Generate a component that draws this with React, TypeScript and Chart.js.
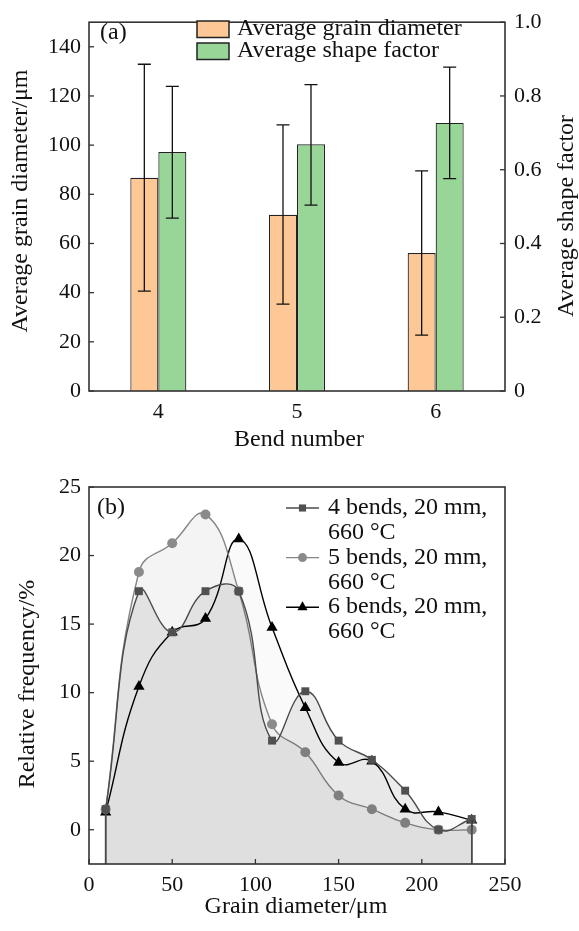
import React, { useEffect, useRef } from 'react';
import { Chart, registerables } from 'chart.js';

Chart.register(...registerables);

const FONT = "'Liberation Serif', 'Times New Roman', serif";
const TEXT = '#111';

// ---------- Panel (a) data ----------
const bendLabels = ['4', '5', '6'];
const grainDiameter = [86.7, 71.7, 56.1];
const grainDiameterLow = [40.6, 35.3, 22.7];
const grainDiameterHigh = [132.9, 108.2, 89.5];
const shapeFactor = [0.648, 0.669, 0.727];
const shapeFactorLow = [0.469, 0.504, 0.576];
const shapeFactorHigh = [0.826, 0.831, 0.878];
const leftTicksA = [0, 20, 40, 60, 80, 100, 120, 140];
const rightTicksA = [0, 0.2, 0.4, 0.6, 0.8, 1.0];

// ---------- Panel (b) data ----------
const grainSizes = [10, 30, 50, 70, 90, 110, 130, 150, 170, 190, 210, 230];
const freq4 = [1.5, 17.4, 14.4, 17.4, 17.4, 6.5, 10.1, 6.5, 5.1, 2.85, 0, 0.78];
const freq5 = [1.5, 18.8, 20.9, 23.0, 17.4, 7.7, 5.65, 2.5, 1.5, 0.5, 0, 0];
const freq6 = [1.27, 10.45, 14.4, 15.4, 21.2, 14.75, 8.9, 4.9, 5.0, 1.5, 1.3, 0.7];
const xTicksB = [0, 50, 100, 150, 200, 250];
const yTicksB = [0, 5, 10, 15, 20, 25];
const seriesNamesB = ['4 bends, 20 mm,', '5 bends, 20 mm,', '6 bends, 20 mm,'];
const seriesSubB = ['660 °C', '660 °C', '660 °C'];

const tickFont = { family: FONT, size: 22 };

function drawText(ctx: CanvasRenderingContext2D, text: string, x: number, y: number, rot = 0, align: CanvasTextAlign = 'center', size = 24) {
  ctx.save();
  ctx.translate(x, y);
  if (rot) ctx.rotate(rot);
  ctx.font = `${size}px ${FONT}`;
  ctx.fillStyle = TEXT;
  ctx.textAlign = align;
  ctx.textBaseline = 'middle';
  ctx.fillText(text, 0, 0);
  ctx.restore();
}

function drawMarker(ctx: CanvasRenderingContext2D, style: string, x: number, y: number, r: number, color: string) {
  ctx.save();
  ctx.fillStyle = color;
  ctx.beginPath();
  if (style === 'rect') {
    const s = Math.SQRT1_2 * r;
    ctx.rect(x - s, y - s, 2 * s, 2 * s);
  } else if (style === 'circle') {
    ctx.arc(x, y, r, 0, Math.PI * 2);
  } else {
    let rad = 0;
    ctx.moveTo(x + Math.sin(rad) * r, y - Math.cos(rad) * r);
    rad += (2 * Math.PI) / 3;
    ctx.lineTo(x + Math.sin(rad) * r, y - Math.cos(rad) * r);
    rad += (2 * Math.PI) / 3;
    ctx.lineTo(x + Math.sin(rad) * r, y - Math.cos(rad) * r);
    ctx.closePath();
  }
  ctx.fill();
  ctx.restore();
}

function makeTickPlugin(specs: { id: string; side: string; values: number[] }[]) {
  return {
    id: 'innerTicks',
    afterDraw(chart: any) {
      const ctx = chart.ctx as CanvasRenderingContext2D;
      const a = chart.chartArea;
      ctx.save();
      ctx.strokeStyle = '#333';
      ctx.lineWidth = 1.3;
      specs.forEach((spec) => {
        const scale = chart.scales[spec.id];
        spec.values.forEach((v) => {
          const p = scale.getPixelForValue(v);
          ctx.beginPath();
          if (spec.side === 'left') { ctx.moveTo(a.left, p); ctx.lineTo(a.left + 5, p); }
          else if (spec.side === 'right') { ctx.moveTo(a.right, p); ctx.lineTo(a.right - 5, p); }
          else { ctx.moveTo(p, a.bottom); ctx.lineTo(p, a.bottom - 5); }
          ctx.stroke();
        });
      });
      ctx.strokeStyle = '#333';
      ctx.lineWidth = 1.6;
      ctx.strokeRect(a.left, a.top, a.right - a.left, a.bottom - a.top);
      ctx.restore();
    },
  };
}

const setTicks = (vals: number[]) => (s: any) => { s.ticks = vals.map((v) => ({ value: v })); };

export default function App() {
  const refA = useRef<HTMLCanvasElement>(null);
  const refB = useRef<HTMLCanvasElement>(null);

  useEffect(() => {
    const orange = '#FDC896';
    const green = '#98D698';

    const errorPlugin = {
      id: 'errorBars',
      afterDatasetsDraw(chart: any) {
        const ctx = chart.ctx as CanvasRenderingContext2D;
        const sets = [
          { low: grainDiameterLow, high: grainDiameterHigh, axis: 'y' },
          { low: shapeFactorLow, high: shapeFactorHigh, axis: 'y1' },
        ];
        ctx.save();
        ctx.strokeStyle = '#111';
        ctx.lineWidth = 1.3;
        sets.forEach((s, di) => {
          const meta = chart.getDatasetMeta(di);
          const scale = chart.scales[s.axis];
          meta.data.forEach((el: any, i: number) => {
            const x = el.x;
            const yl = scale.getPixelForValue(s.low[i]);
            const yh = scale.getPixelForValue(s.high[i]);
            ctx.beginPath();
            ctx.moveTo(x, yl); ctx.lineTo(x, yh);
            ctx.moveTo(x - 6.5, yl); ctx.lineTo(x + 6.5, yl);
            ctx.moveTo(x - 6.5, yh); ctx.lineTo(x + 6.5, yh);
            ctx.stroke();
          });
        });
        ctx.restore();
      },
    };

    const textA = {
      id: 'textA',
      afterDraw(chart: any) {
        const ctx = chart.ctx as CanvasRenderingContext2D;
        drawText(ctx, '(a)', 100, 33, 0, 'left');
        drawText(ctx, 'Average grain diameter/\u03bcm', 21, 201, -Math.PI / 2);
        drawText(ctx, 'Average shape factor', 567, 216, -Math.PI / 2);
        drawText(ctx, 'Bend number', 299, 440);
        const items = [
          { t: 'Average grain diameter', c: orange, y: 21 },
          { t: 'Average shape factor', c: green, y: 43 },
        ];
        items.forEach((it) => {
          ctx.save();
          ctx.fillStyle = it.c;
          ctx.fillRect(197, it.y, 32, 16.5);
          ctx.strokeStyle = '#222';
          ctx.lineWidth = 1.5;
          ctx.strokeRect(197, it.y, 32, 16.5);
          ctx.restore();
          drawText(ctx, it.t, 237, it.y + 8, 0, 'left');
        });
      },
    };

    const chartA = new Chart(refA.current!, {
      type: 'bar',
      data: {
        labels: bendLabels,
        datasets: [
          { label: 'Average grain diameter', data: grainDiameter, yAxisID: 'y', backgroundColor: orange, borderColor: '#222', borderWidth: 1.2, categoryPercentage: 0.404, barPercentage: 1 },
          { label: 'Average shape factor', data: shapeFactor, yAxisID: 'y1', backgroundColor: green, borderColor: '#222', borderWidth: 1.2, categoryPercentage: 0.404, barPercentage: 1 },
        ],
      },
      options: {
        animation: false,
        responsive: false,
        devicePixelRatio: 1,
        layout: { padding: { top: 14, left: 0, right: 0, bottom: 0 } },
        plugins: { legend: { display: false }, tooltip: { enabled: false } },
        scales: {
          x: {
            type: 'category',
            grid: { display: false, drawTicks: false },
            border: { display: false },
            ticks: { font: tickFont, color: TEXT, padding: 8 },
            afterFit: (s: any) => { s.height = 69; },
          },
          y: {
            type: 'linear', position: 'left', min: 0, max: 150,
            afterBuildTicks: setTicks(leftTicksA),
            grid: { display: false, drawTicks: false },
            border: { display: false },
            ticks: { font: tickFont, color: TEXT, padding: 8 },
            afterFit: (s: any) => { s.width = 89; },
          },
          y1: {
            type: 'linear', position: 'right', min: 0, max: 1,
            afterBuildTicks: setTicks(rightTicksA),
            grid: { display: false, drawTicks: false },
            border: { display: false },
            ticks: { font: tickFont, color: TEXT, padding: 9, callback: (v: any) => (Number(v) === 0 ? '0' : Number(v).toFixed(1)) },
            afterFit: (s: any) => { s.width = 74; },
          },
        },
      } as any,
      plugins: [errorPlugin, makeTickPlugin([
        { id: 'y', side: 'left', values: leftTicksA },
        { id: 'y1', side: 'right', values: rightTicksA },
      ]), textA],
    });

    const colorsB = ['#4a4a4a', '#858585', '#000000'];
    const markerColorsB = ['#505050', '#8a8a8a', '#000000'];
    const stylesB = ['rect', 'circle', 'triangle'];
    const radiiB = [5.6, 5, 6.5];
    const fillsB = ['rgba(0,0,0,0.075)', 'rgba(0,0,0,0.045)', 'rgba(0,0,0,0.02)'];
    const seriesB = [freq4, freq5, freq6];

    const edgePlugin = {
      id: 'edges',
      afterDatasetsDraw(chart: any) {
        const ctx = chart.ctx as CanvasRenderingContext2D;
        const a = chart.chartArea;
        ctx.save();
        ctx.lineWidth = 1.4;
        [2, 1, 0].forEach((di) => {
          const meta = chart.getDatasetMeta(di);
          const pts = meta.data;
          ctx.strokeStyle = colorsB[di];
          ctx.beginPath();
          ctx.moveTo(pts[0].x, a.bottom); ctx.lineTo(pts[0].x, pts[0].y);
          const l = pts[pts.length - 1];
          ctx.moveTo(l.x, a.bottom); ctx.lineTo(l.x, l.y);
          ctx.stroke();
        });
        ctx.restore();
      },
    };

    const textB = {
      id: 'textB',
      afterDraw(chart: any) {
        const ctx = chart.ctx as CanvasRenderingContext2D;
        drawText(ctx, '(b)', 97, 47.5, 0, 'left');
        drawText(ctx, 'Relative frequency/%', 27.5, 224, -Math.PI / 2);
        drawText(ctx, 'Grain diameter/\u03bcm', 296, 447);
        const step = 24.8;
        seriesNamesB.forEach((name, i) => {
          const y = 48 + i * 2 * step;
          ctx.save();
          ctx.strokeStyle = colorsB[i];
          ctx.lineWidth = 1.4;
          ctx.beginPath();
          ctx.moveTo(286, y); ctx.lineTo(319, y);
          ctx.stroke();
          ctx.restore();
          drawMarker(ctx, stylesB[i], 302.5, y, radiiB[i] * 0.9, markerColorsB[i]);
          drawText(ctx, name, 328, y, 0, 'left');
          drawText(ctx, seriesSubB[i], 328, y + step, 0, 'left');
        });
      },
    };

    const chartB = new Chart(refB.current!, {
      type: 'line',
      data: {
        datasets: seriesB.map((ys, i) => ({
          label: seriesNamesB[i] + ' ' + seriesSubB[i],
          data: grainSizes.map((x, j) => ({ x, y: ys[j] })),
          borderColor: colorsB[i],
          backgroundColor: fillsB[i],
          borderWidth: 1.4,
          fill: 'start',
          tension: 0.45,
          pointStyle: stylesB[i],
          pointRadius: radiiB[i],
          pointBackgroundColor: markerColorsB[i],
          pointBorderColor: markerColorsB[i],
          pointBorderWidth: 0,
        })),
      },
      options: {
        animation: false,
        responsive: false,
        devicePixelRatio: 1,
        layout: { padding: { top: 27, left: 0, right: 74, bottom: 0 } },
        plugins: { legend: { display: false }, tooltip: { enabled: false } },
        scales: {
          x: {
            type: 'linear', min: 0, max: 250,
            afterBuildTicks: setTicks(xTicksB),
            grid: { display: false, drawTicks: false },
            border: { display: false },
            ticks: { font: tickFont, color: TEXT, padding: 8 },
            afterFit: (s: any) => { s.height = 67; },
          },
          y: {
            type: 'linear', min: -2.5, max: 25,
            afterBuildTicks: setTicks(yTicksB),
            grid: { display: false, drawTicks: false },
            border: { display: false },
            ticks: { font: tickFont, color: TEXT, padding: 8 },
            afterFit: (s: any) => { s.width = 89; },
          },
        },
      } as any,
      plugins: [edgePlugin, makeTickPlugin([
        { id: 'y', side: 'left', values: yTicksB },
        { id: 'x', side: 'bottom', values: xTicksB },
      ]), textB],
    });

    return () => { chartA.destroy(); chartB.destroy(); };
  }, []);

  return (
    <div style={{ position: 'absolute', left: 0, top: 0, width: 579, height: 931, background: '#fff' }}>
      <canvas ref={refA} width={579} height={460} style={{ display: 'block', width: 579, height: 460 }} />
      <canvas ref={refB} width={579} height={471} style={{ display: 'block', width: 579, height: 471 }} />
    </div>
  );
}
